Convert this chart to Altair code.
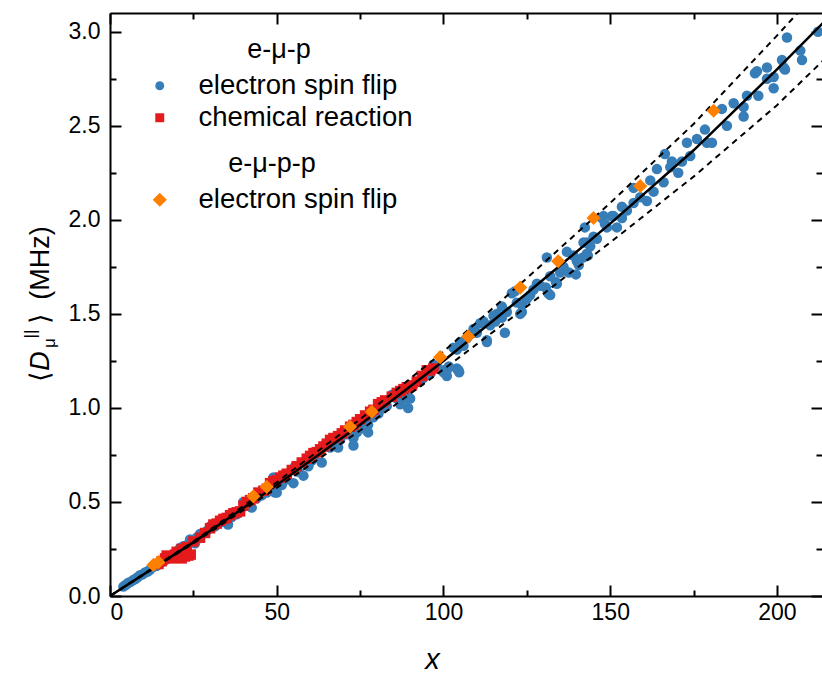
import altair as alt
import pandas as pd

# ---------------- data ----------------
blue_x = [4, 4.8, 5.5, 6.2, 7, 7.6, 8.3, 9, 9.8, 10.5, 11.3, 12, 13, 14, 15.2, 16.5, 17.5, 18.5, 19.5, 20.5,
          21, 22, 23, 24, 25.5, 26, 27, 28, 29, 30, 31.5, 33, 34, 35.4, 36.5, 38, 39, 40, 41, 42.5,
          44, 45.5, 47, 49, 49.5, 50, 51.5, 53, 55, 55.5, 56.5, 58, 59.5, 60.5, 61.5, 63.5, 63, 64.5, 66, 68.4,
          69, 71, 73, 73, 74, 76, 77.4, 77.4, 79, 80.5, 82, 83, 84.6, 86, 87, 88.5, 89.4, 90, 89.4, 91,
          93, 94, 96, 97, 98, 100, 100, 101, 101.6, 101, 103, 104, 104, 104.5, 104.7, 105, 106, 107, 109, 110,
          111, 112, 113, 113, 114, 115, 115.5, 116, 117.5, 117.5, 118.4, 119, 120.5, 121.4, 122, 123, 123.5, 123.5, 125, 126,
          127, 128, 129, 130.7, 131, 131.4, 132, 132, 133.7, 134, 135, 136, 137, 137.6, 139, 139.7, 140, 140.6, 141.8, 142,
          142.4, 143, 143, 143.3, 144, 145, 146, 147.5, 148, 148.4, 149, 150.5, 151, 152, 153.5, 153.5, 155, 157, 157, 159,
          161, 162, 163, 164, 166, 166.4, 168, 168.5, 170.4, 171.5, 173, 174, 176, 178.4, 179, 180.5, 183.5, 185, 187, 190,
          190, 191, 193.4, 194, 194.4, 197, 197, 199, 199, 201.5, 202, 202.4, 203, 207, 207.5, 212.3]
blue_y = [0.05, 0.06, 0.07, 0.075, 0.085, 0.09, 0.10, 0.11, 0.115, 0.125, 0.13, 0.14, 0.155, 0.16, 0.175, 0.19, 0.205, 0.215, 0.225, 0.24,
          0.255, 0.265, 0.27, 0.30, 0.28, 0.31, 0.33, 0.335, 0.345, 0.37, 0.37, 0.39, 0.40, 0.38, 0.42, 0.435, 0.45, 0.50, 0.48, 0.47,
          0.52, 0.535, 0.55, 0.63, 0.55, 0.55, 0.59, 0.62, 0.60, 0.69, 0.66, 0.64, 0.69, 0.72, 0.75, 0.71, 0.77, 0.80, 0.79, 0.79,
          0.83, 0.86, 0.80, 0.84, 0.87, 0.89, 0.87, 0.91, 0.95, 0.97, 1.00, 1.01, 1.07, 1.05, 1.02, 1.05, 1.00, 1.05, 1.10, 1.12,
          1.14, 1.16, 1.18, 1.23, 1.22, 1.19, 1.20, 1.20, 1.22, 1.17, 1.32, 1.31, 1.21, 1.20, 1.19, 1.35, 1.33, 1.37, 1.42, 1.40,
          1.45, 1.46, 1.35, 1.36, 1.44, 1.49, 1.46, 1.50, 1.54, 1.48, 1.40, 1.51, 1.61, 1.62, 1.56, 1.50, 1.51, 1.55, 1.58, 1.60,
          1.63, 1.66, 1.65, 1.64, 1.80, 1.61, 1.70, 1.60, 1.67, 1.66, 1.72, 1.75, 1.83, 1.72, 1.81, 1.71, 1.78, 1.76, 1.80, 1.88,
          1.96, 1.82, 1.88, 1.81, 1.86, 1.91, 1.90, 2.01, 2.02, 1.98, 1.96, 2.02, 2.02, 1.96, 2.07, 2.01, 2.05, 2.09, 2.17, 2.12,
          2.10, 2.21, 2.15, 2.27, 2.20, 2.35, 2.28, 2.31, 2.25, 2.31, 2.41, 2.34, 2.43, 2.48, 2.41, 2.41, 2.59, 2.50, 2.62, 2.60,
          2.55, 2.66, 2.78, 2.79, 2.66, 2.81, 2.75, 2.76, 2.70, 2.85, 2.81, 2.80, 2.97, 2.90, 2.85, 3.00]

red_x = [14.5, 15.5, 16.5, 17.5, 18.5, 19.5, 20.5, 21.5, 22.5, 23.5, 24.2, 17, 20, 21.5, 23, 25, 27, 28.5, 30, 31,
         32, 33, 34, 35, 36, 37, 38, 39, 40, 41, 42, 43, 44.5, 46, 47, 48, 49, 50, 51, 52,
         53, 54.5, 56, 57.5, 59, 60, 61, 62, 63, 64, 65, 66, 67, 68.4, 69.5, 70.5, 72, 73, 74, 75,
         76.5, 78, 79, 80.4, 81.5, 82.5, 84.5, 86, 87, 88, 89, 90.5, 92, 93.5, 95, 96, 97]
red_y = [0.17, 0.185, 0.20, 0.21, 0.20, 0.22, 0.21, 0.20, 0.21, 0.215, 0.22, 0.215, 0.235, 0.25, 0.26, 0.29, 0.31, 0.335, 0.36, 0.38,
         0.385, 0.40, 0.41, 0.415, 0.43, 0.44, 0.445, 0.45, 0.48, 0.50, 0.51, 0.52, 0.55, 0.56, 0.57, 0.60, 0.61, 0.615, 0.63, 0.64,
         0.65, 0.67, 0.69, 0.71, 0.73, 0.745, 0.76, 0.765, 0.78, 0.795, 0.81, 0.83, 0.84, 0.85, 0.865, 0.88, 0.90, 0.91, 0.925, 0.94,
         0.96, 0.98, 0.99, 1.02, 1.03, 1.04, 1.06, 1.08, 1.09, 1.10, 1.11, 1.12, 1.14, 1.17, 1.20, 1.20, 1.21]

orange_x = [13, 14.5, 43, 47, 72, 78.5, 99, 107.4, 123, 134.4, 145, 159, 181]
orange_y = [0.165, 0.18, 0.53, 0.58, 0.90, 0.98, 1.27, 1.38, 1.64, 1.78, 2.01, 2.18, 2.58]

fit_x = [0, 25, 50, 75, 100, 125, 150, 175, 200, 214]
fit_y = [0, 0.285, 0.59, 0.91, 1.25, 1.61, 1.98, 2.37, 2.80, 3.05]
upper_y = [0, 0.29, 0.605, 0.94, 1.30, 1.69, 2.09, 2.51, 2.98, 3.25]
lower_y = [0, 0.28, 0.575, 0.88, 1.205, 1.54, 1.88, 2.23, 2.61, 2.85]

x_major = [0, 50, 100, 150, 200]
x_minor = [25, 75, 125, 175]
y_major = [0, 0.5, 1.0, 1.5, 2.0, 2.5, 3.0]
y_minor = [0.25, 0.75, 1.25, 1.75, 2.25, 2.75]

s_spin = "electron spin flip"
s_chem = "chemical reaction"

# ---------------- tables ----------------
pts = pd.DataFrame({
    "x": blue_x + red_x,
    "y": blue_y + red_y,
    "series": [s_spin] * len(blue_x) + [s_chem] * len(red_x),
})
opts = pd.DataFrame({"x": orange_x, "y": orange_y, "series": [s_spin] * len(orange_x)})
fit = pd.DataFrame({"x": fit_x, "y": fit_y, "up": upper_y, "lo": lower_y})

# ---------------- styling ----------------
FONT = "Liberation Sans"
W, H = 712, 583
BLUE, RED, ORANGE = "#377eb8", "#e41a1c", "#ff7f00"
xs = alt.Scale(domain=[0, 213.5], nice=False, zero=False)
ys = alt.Scale(domain=[0, 3.1], nice=False, zero=False)
NB = "\u00a0"


def tick_axis(orient, values, size, offset, domain):
    return alt.Axis(orient=orient, values=values, tickSize=size, offset=offset,
                    domain=domain, labels=False, ticks=True, grid=False, title=None,
                    tickColor="black", tickWidth=2, domainColor="black", domainWidth=2)


x_label_axis = alt.Axis(orient="bottom", values=x_major, ticks=False, tickSize=0, domain=False,
                        labels=True, grid=False, format="d", labelFont=FONT, labelFontSize=23,
                        labelColor="black", labelPadding=5, title="x", titleFont=FONT,
                        titleFontStyle="italic", titleFontWeight="normal", titleFontSize=29,
                        titleColor="black", titleX=322, titleY=72, titleBaseline="alphabetic")
y_label_axis = alt.Axis(orient="left", values=y_major, ticks=False, tickSize=0, domain=False,
                        labels=True, grid=False, format=".1f", labelFont=FONT, labelFontSize=23,
                        labelColor="black", labelPadding=10, title=None)


def legend(title, y, sym):
    return alt.Legend(title=title, orient="none", legendX=36, legendY=y, titleAnchor="middle",
                      titleFont=FONT, titleFontSize=27, titleFontWeight="normal", titleColor="black",
                      labelFont=FONT, labelFontSize=27.5, labelColor="black", labelLimit=500,
                      titleLimit=500, symbolSize=sym, labelOffset=25, rowPadding=3, titlePadding=8,
                      padding=0, symbolStrokeWidth=0)


leg1 = legend("e-\u03bc-p" + NB * 2, 24, 80)
leg2 = legend("e-\u03bc-p-p" + NB * 3, 138, 200)

points = alt.Chart(pts).mark_point(filled=True, opacity=1, strokeWidth=0).encode(
    x=alt.X("x:Q", scale=xs, axis=x_label_axis),
    y=alt.Y("y:Q", scale=ys, axis=y_label_axis),
    color=alt.Color("series:N", scale=alt.Scale(domain=[s_spin, s_chem], range=[BLUE, RED]), legend=leg1),
    shape=alt.Shape("series:N", scale=alt.Scale(domain=[s_spin, s_chem], range=["circle", "square"]), legend=leg1),
    size=alt.value(110),
)

solid = alt.Chart(fit).mark_line(color="black", strokeWidth=2.5, clip=True).encode(
    x=alt.X("x:Q", scale=xs, axis=tick_axis("top", x_minor, 6, -H, False)),
    y=alt.Y("y:Q", scale=ys, axis=tick_axis("right", y_minor, 6, -W, False)),
)
upper = alt.Chart(fit).mark_line(color="black", strokeWidth=2, strokeDash=[6, 5], clip=True).encode(
    x=alt.X("x:Q", scale=xs, axis=tick_axis("bottom", x_major, 11, -H, True)),
    y=alt.Y("up:Q", scale=ys, axis=tick_axis("left", y_major, 11, -W, False)),
)
lower = alt.Chart(fit).mark_line(color="black", strokeWidth=2, strokeDash=[6, 5], clip=True).encode(
    x=alt.X("x:Q", scale=xs, axis=tick_axis("bottom", x_minor, 6, -H, False)),
    y=alt.Y("lo:Q", scale=ys, axis=tick_axis("left", y_minor, 6, -W, False)),
)
orange = alt.Chart(opts).mark_point(filled=True, opacity=1, strokeWidth=0).encode(
    x=alt.X("x:Q", scale=xs, axis=tick_axis("top", x_major, 11, -H, True)),
    y=alt.Y("y:Q", scale=ys, axis=tick_axis("right", y_major, 11, -W, True)),
    color=alt.Color("series:N", scale=alt.Scale(domain=[s_spin], range=[ORANGE]), legend=leg2),
    shape=alt.Shape("series:N", scale=alt.Scale(domain=[s_spin], range=["diamond"]), legend=leg2),
    size=alt.value(200),
)

# y-axis title built from pieces: <D_mu^||> (MHz)
one = pd.DataFrame({"k": [0]})


def piece(text, x, y, size=27, style="normal"):
    return alt.Chart(one).mark_text(text=text, font=FONT, fontSize=size, fontStyle=style, angle=270,
                                    align="center", baseline="alphabetic", color="black").encode(
        x=alt.value(x), y=alt.value(y))


title_parts = [
    piece("\u27e8", -61, 363),
    piece("D", -61, 348, style="italic"),
    piece("\u03bc", -55, 330, size=17),
    piece("||", -74, 321, size=17),
    piece("\u27e9", -61, 305),
    piece("(MHz)", -61, 250),
]

chart = alt.layer(points, solid, upper, lower, orange, *title_parts).resolve_scale(
    color="independent", shape="independent"
).resolve_axis(x="independent", y="independent").properties(
    width=W, height=H, autosize=alt.AutoSizeParams(type="none"),
    padding={"left": 110, "top": 13, "right": 0, "bottom": 83},
).configure_view(stroke=None).configure(background="white")

chart.save("out.html", embed_options={"renderer": "svg", "actions": False})
